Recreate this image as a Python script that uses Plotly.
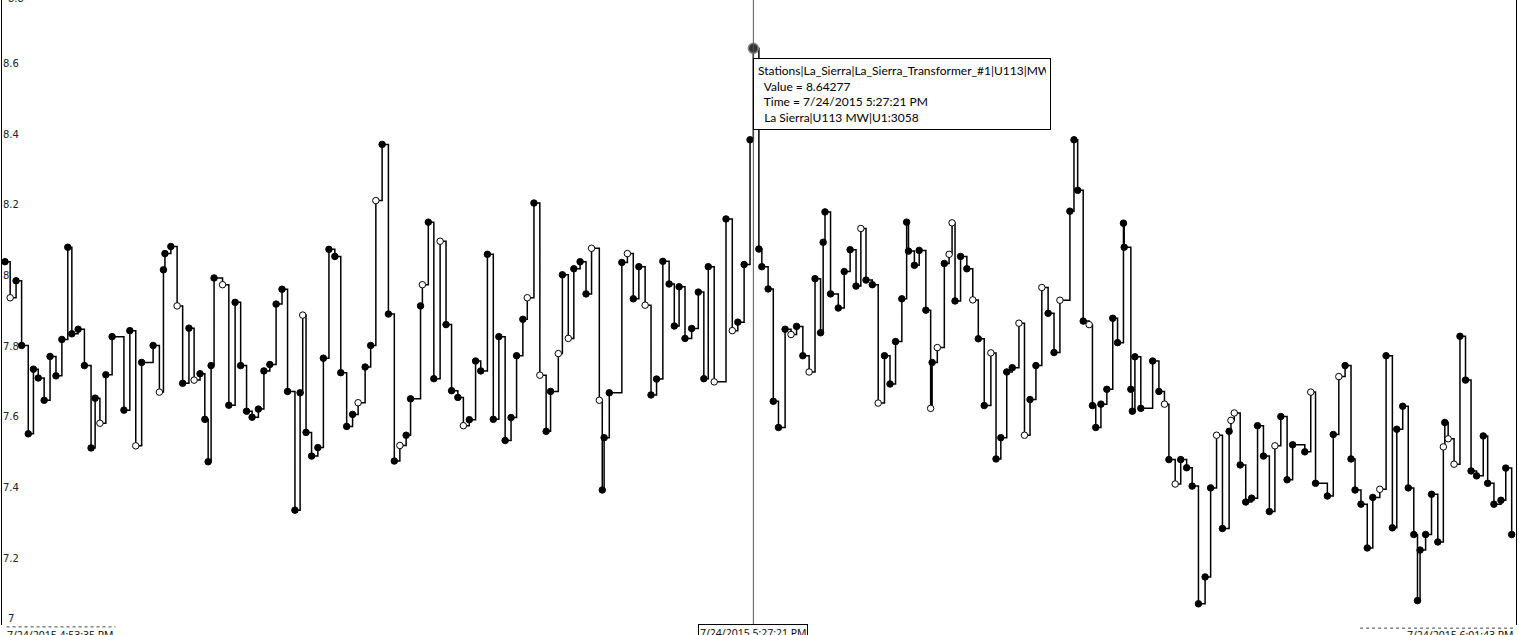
import pandas as pd
import plotly.graph_objects as go

# ---- data -----------------------------------------------------------------
start_time = "2015-07-24 16:53:35"
end_time = "2015-07-24 18:01:43"
cursor_time = "2015-07-24 17:27:21"

# seconds elapsed since start_time for each archived value
offsets_s = [
    0, 14, 30, 45, 63, 77, 90, 106, 122, 138, 154, 170, 181, 198, 215, 233, 244, 257, 273, 290,
    322, 338, 354, 370, 401, 418, 429, 433, 449, 466, 481, 498, 512, 528, 541, 550, 558, 566, 589, 606,
    623, 638, 654, 669, 686, 701, 717, 734, 750, 765, 785, 799, 806, 815, 830, 847, 862, 877, 893, 909,
    925, 941, 956, 975, 990, 1004, 1021, 1038, 1054, 1069, 1086, 1098, 1125, 1130, 1146, 1161, 1178, 1194, 1209, 1226,
    1241, 1257, 1274, 1288, 1306, 1322, 1337, 1354, 1370, 1385, 1402, 1414, 1432, 1448, 1465, 1477, 1498, 1509, 1525, 1540,
    1557, 1573, 1588, 1609, 1617, 1622, 1636, 1670, 1685, 1701, 1716, 1733, 1749, 1764, 1781, 1798, 1812, 1825, 1841, 1859,
    1877, 1892, 1904, 1920, 1952, 1969, 1984, 2001, 2017, 2026, 2041, 2049, 2066, 2080, 2094, 2112, 2128, 2143, 2160, 2177,
    2193, 2208, 2215, 2220, 2235, 2256, 2272, 2288, 2304, 2317, 2331, 2348, 2364, 2381, 2396, 2411, 2428, 2441, 2446, 2462,
    2475, 2493, 2506, 2510, 2524, 2543, 2556, 2564, 2572, 2587, 2604, 2620, 2635, 2651, 2669, 2683, 2696, 2712, 2727, 2745,
    2760, 2775, 2791, 2807, 2824, 2840, 2856, 2883, 2894, 2904, 2919, 2935, 2944, 2953, 2967, 2983, 2999, 3012, 3028, 3030,
    3048, 3052, 3059, 3075, 3107, 3124, 3139, 3151, 3168, 3183, 3199, 3214, 3231, 3249, 3264, 3280, 3296, 3314, 3319, 3328,
    3344, 3359, 3375, 3391, 3407, 3423, 3438, 3454, 3471, 3486, 3519, 3535, 3548, 3580, 3596, 3611, 3628, 3644, 3655, 3671,
    3688, 3703, 3722, 3739, 3756, 3768, 3784, 3799, 3814, 3824, 3831, 3846, 3862, 3879, 3894, 3898, 3907, 3923, 3939, 3954,
    3969, 3984, 4002, 4014, 4031, 4050, 4063, 4079,
]

mw_values = [
    8.039, 7.937, 7.985, 7.802, 7.552, 7.735, 7.710, 7.647, 7.771, 7.716, 7.819, 8.080, 7.835, 7.848, 7.745, 7.512, 7.653, 7.582, 7.719, 7.827,
    7.619, 7.844, 7.518, 7.754, 7.802, 7.670, 8.016, 8.062, 8.082, 7.914, 7.695, 7.851, 7.704, 7.722, 7.593, 7.473, 7.745, 7.993, 7.974, 7.633,
    7.924, 7.745, 7.616, 7.599, 7.622, 7.730, 7.748, 7.919, 7.961, 7.672, 7.336, 7.668, 7.888, 7.556, 7.489, 7.513, 7.766, 8.074, 8.054, 7.725,
    7.573, 7.607, 7.640, 7.741, 7.802, 8.212, 8.371, 7.891, 7.475, 7.519, 7.548, 7.651, 7.914, 7.974, 8.151, 7.708, 8.097, 7.861, 7.674, 7.655,
    7.575, 7.592, 7.758, 7.730, 8.060, 7.593, 7.827, 7.533, 7.598, 7.773, 7.876, 7.937, 8.205, 7.718, 7.559, 7.672, 7.779, 8.002, 7.822, 8.019,
    8.039, 7.948, 8.077, 7.647, 7.393, 7.541, 7.668, 8.037, 8.062, 7.934, 8.025, 7.916, 7.662, 7.707, 8.040, 7.976, 7.857, 7.968, 7.822, 7.850,
    7.953, 7.708, 8.025, 7.699, 8.160, 7.844, 7.868, 8.031, 8.384, 8.64277, 8.075, 8.025, 7.962, 7.644, 7.570, 7.848, 7.833, 7.856, 7.773, 7.727,
    7.991, 7.838, 8.094, 8.180, 7.948, 7.908, 8.011, 8.073, 7.970, 8.133, 7.987, 7.974, 7.639, 7.773, 7.693, 7.813, 7.934, 8.151, 8.069, 8.029,
    8.071, 7.902, 7.624, 7.754, 7.796, 8.034, 8.060, 8.149, 7.928, 8.054, 8.019, 7.931, 7.821, 7.632, 7.781, 7.481, 7.541, 7.727, 7.739, 7.865,
    7.548, 7.649, 7.745, 7.966, 7.893, 7.782, 7.930, 8.182, 8.384, 8.241, 7.871, 7.861, 7.632, 7.570, 7.636, 7.678, 7.879, 7.810, 8.148, 8.080,
    7.678, 7.616, 7.770, 7.624, 7.758, 7.672, 7.636, 7.479, 7.410, 7.479, 7.456, 7.404, 7.071, 7.147, 7.399, 7.548, 7.284, 7.559, 7.590, 7.611,
    7.464, 7.359, 7.370, 7.575, 7.489, 7.332, 7.518, 7.601, 7.422, 7.521, 7.501, 7.670, 7.412, 7.376, 7.550, 7.714, 7.745, 7.481, 7.393, 7.353,
    7.229, 7.372, 7.395, 7.773, 7.286, 7.565, 7.630, 7.399, 7.267, 7.080, 7.223, 7.267, 7.381, 7.246, 7.515, 7.584, 7.538, 7.466, 7.828, 7.704,
    7.447, 7.433, 7.546, 7.412, 7.353, 7.364, 7.455, 7.267,
]

# indices of points drawn with an open (hollow) marker
open_points = [
    1, 17, 22, 25, 29, 32, 38, 52, 62, 65, 69, 73, 76, 80, 91, 93, 96, 98, 102, 103,
    108, 111, 123, 125, 136, 139, 149, 152, 162, 164, 166, 167, 171, 174, 179, 180, 183, 186, 191, 206,
    208, 215, 218, 219, 226, 231, 235, 242, 254, 256, 257,
]

y_ticks = [7.2, 7.4, 7.6, 7.8, 8.0, 8.2, 8.4, 8.6]
y_tick_text = ["7.2", "7.4", "7.6", "7.8", "8", "8.2", "8.4", "8.6"]
y_min_label = "7"
y_max_label = "8.8"

tag_name = "Stations|La_Sierra|La_Sierra_Transformer_#1|U113|MW"
hover_value = "8.64277"
hover_time = "7/24/2015 5:27:21 PM"
hover_desc = "La Sierra|U113 MW|U1:3058"
left_label = "7/24/2015 4:53:35 PM"
center_label = "7/24/2015 5:27:21 PM"
right_label = "7/24/2015 6:01:43 PM"

# ---- build ----------------------------------------------------------------
t0 = pd.Timestamp(start_time)
t_end = pd.Timestamp(end_time)
t_cur = pd.Timestamp(cursor_time)
times = [t0 + pd.Timedelta(seconds=s) for s in offsets_s]

line_x = times + [t_end]
line_y = mw_values + [mw_values[-1]]

fill_colors = ["white" if i in open_points else "black" for i in range(len(mw_values))]
cur_idx = offsets_s.index(int((t_cur - t0).total_seconds()))

fig = go.Figure()
fig.add_trace(go.Scatter(
    x=line_x, y=line_y, mode="lines", line=dict(shape="hv", color="black", width=1.5),
    hoverinfo="skip", showlegend=False,
))
fig.add_trace(go.Scatter(
    x=times, y=mw_values, mode="markers",
    marker=dict(size=6.5, color=fill_colors, line=dict(color="black", width=1)),
    showlegend=False,
))
fig.add_trace(go.Scatter(
    x=[times[cur_idx]], y=[mw_values[cur_idx]], mode="markers",
    marker=dict(size=10, color="#333", line=dict(color="#888", width=1.5)),
    showlegend=False,
))

x_lo = t0 - pd.Timedelta(seconds=8.1)
x_hi = t_end + pd.Timedelta(seconds=2.7)

# hover cursor line
fig.add_shape(type="line", xref="x", yref="paper", x0=t_cur, x1=t_cur, y0=0, y1=1,
              line=dict(color="#555", width=1))

tick_font = dict(family="DejaVu Sans", size=10, color="#222")
# end-of-scale labels (drawn just inside the plot edges)
fig.add_annotation(x=0, xref="paper", y=1, yref="paper", xanchor="left", yanchor="bottom",
                   xshift=4, yshift=-6, text=y_max_label, showarrow=False, font=tick_font)
fig.add_annotation(x=0, xref="paper", y=0, yref="paper", xanchor="left", yanchor="bottom",
                   xshift=4, yshift=-1, text=y_min_label, showarrow=False, font=tick_font)

tip = (f"{tag_name}<br>&nbsp;&nbsp;Value = {hover_value}<br>"
       f"&nbsp;&nbsp;Time = {hover_time}<br>&nbsp;&nbsp;{hover_desc}")
fig.add_annotation(x=t_cur, xref="x", y=1, yref="paper", yshift=-58, xshift=0,
                   xanchor="left", yanchor="top", text=tip, showarrow=False, align="left",
                   valign="top", width=288, height=62,
                   font=dict(family="Lato", size=12, color="black"),
                   bgcolor="white", bordercolor="black", borderwidth=1, borderpad=4)

lab_font = dict(family="Open Sans", size=10.5, color="black")
fig.add_annotation(x=t0, xref="x", y=0, yref="paper", xanchor="left", yanchor="top", yshift=-1,
                   text=left_label, showarrow=False, font=lab_font)
fig.add_annotation(x=t_end, xref="x", y=0, yref="paper", xanchor="right", yanchor="top", yshift=-1,
                   text=right_label, showarrow=False, font=lab_font)
fig.add_annotation(x=t_cur, xref="x", y=0, yref="paper", xanchor="center", yanchor="top", yshift=1,
                   text=center_label, showarrow=False, font=lab_font,
                   bordercolor="black", borderwidth=1, borderpad=1, bgcolor="white")

# thin rules above the end labels
fig.add_shape(type="line", xref="paper", yref="paper", x0=0.003, x1=0.075, y0=-0.003, y1=-0.003,
              line=dict(color="#444", width=1, dash="dot"))
fig.add_shape(type="line", xref="paper", yref="paper", x0=0.897, x1=0.998, y0=-0.005, y1=-0.005,
              line=dict(color="#444", width=1, dash="dot"))

fig.update_layout(
    width=1519, height=635,
    margin=dict(l=2, r=3, t=0, b=10, autoexpand=False),
    paper_bgcolor="white", plot_bgcolor="white",
    xaxis=dict(range=[x_lo, x_hi], showgrid=False, zeroline=False, showline=False,
               showticklabels=False, ticks=""),
    yaxis=dict(range=[7.011, 8.7796], tickvals=y_ticks, ticktext=y_tick_text,
               ticklabelposition="inside", showgrid=False, zeroline=False,
               showline=True, mirror=True, linecolor="black", linewidth=1, ticks="",
               tickfont=tick_font),
    hovermode=False,
)

fig.write_html("out.html", config={"displayModeBar": False},
               post_script="document.body.style.margin='0px';")
